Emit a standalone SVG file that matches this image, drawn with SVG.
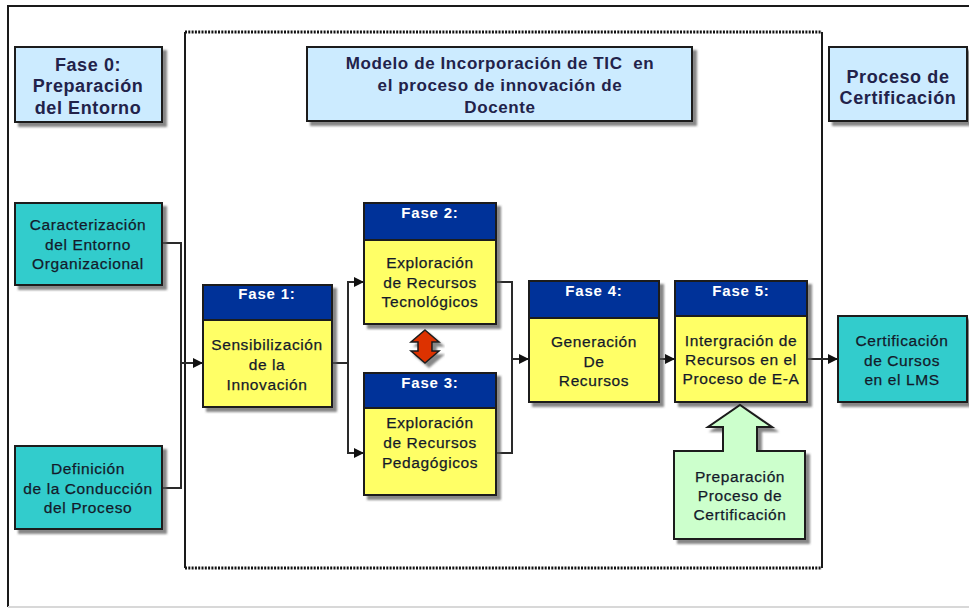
<svg xmlns="http://www.w3.org/2000/svg" width="969" height="608" viewBox="0 0 969 608">
<defs>
<filter id="sh" x="-10%" y="-10%" width="130%" height="130%">
<feDropShadow dx="4" dy="4" stdDeviation="1.2" flood-color="#555" flood-opacity="0.7"/>
</filter>
<marker id="ar" viewBox="0 0 10 10" refX="9" refY="5" markerWidth="10" markerHeight="10" markerUnits="userSpaceOnUse" orient="auto">
<path d="M0,0 L10,5 L0,10 z" fill="#111"/>
</marker>
</defs>
<style>
.box{stroke:#1a1a1a;stroke-width:2}
.lb{fill:#CCEBFF}
.tl{fill:#33CCCC}
.yl{fill:#FFFF66}
.nv{fill:#003399}
.gr{fill:#CCFFCC}
.title{font-family:"Liberation Sans",Arial,sans-serif;font-weight:bold;font-size:18px;fill:#22224a;text-anchor:middle;letter-spacing:0.6px;white-space:pre}
.t{font-family:"Liberation Sans",Arial,sans-serif;font-size:15.5px;fill:#141a2a;stroke:#141a2a;stroke-width:0.25;text-anchor:middle;letter-spacing:0.6px}
.h{font-family:"Liberation Sans",Arial,sans-serif;font-weight:bold;font-size:15px;fill:#ffffff;text-anchor:middle;letter-spacing:0.8px}
.cn{fill:none;stroke:#2a2a2a;stroke-width:2}
</style>
<rect width="969" height="608" fill="#ffffff"/>
<!-- outer frame -->
<path d="M975,6 H8 V607" fill="none" stroke="#1a1a1a" stroke-width="2"/>
<line x1="8" y1="607" x2="969" y2="607" stroke="#d8d8d8" stroke-width="2"/>
<!-- inner dotted frame -->
<g id="frame">
<line x1="185" y1="32" x2="822" y2="32" stroke="#111" stroke-width="3" stroke-dasharray="2,1.3"/>
<line x1="185" y1="568" x2="822" y2="568" stroke="#111" stroke-width="3" stroke-dasharray="2,1.3"/>
<line x1="185" y1="32" x2="185" y2="568" stroke="#1a1a1a" stroke-width="2"/>
<line x1="822" y1="32" x2="822" y2="568" stroke="#1a1a1a" stroke-width="2"/>
</g>
<g id="connectors">
<path class="cn" d="M162,243 H181 V488 H162"/>
<path class="cn" d="M181,363 H202" marker-end="url(#ar)"/>
<path class="cn" d="M332,363 H348 V282 H363" marker-end="url(#ar)"/>
<path class="cn" d="M348,363 V453 H363" marker-end="url(#ar)"/>
<path class="cn" d="M496,282 H512 V453 H496"/>
<path class="cn" d="M512,359 H528" marker-end="url(#ar)"/>
<path class="cn" d="M659,359 H674" marker-end="url(#ar)"/>
<path class="cn" d="M807,359 H837" marker-end="url(#ar)"/>
<path d="M425,330 L439,342 L432,342 L432,351 L439,351 L425,363 L411,351 L418,351 L418,342 L411,342 Z" fill="#DD3300" stroke="#1a1a1a" stroke-width="1.5" filter="url(#sh)"/>
</g>
<g id="fase0">
<rect class="box lb" x="15" y="47" width="147" height="75" filter="url(#sh)"/>
<text class="title" x="88" y="71">Fase 0:</text>
<text class="title" x="88" y="92">Preparación</text>
<text class="title" x="88" y="114">del Entorno</text>
</g>
<g id="modelo">
<rect class="box lb" x="307" y="47" width="385" height="74" filter="url(#sh)"/>
<text class="title" x="500" y="69" style="font-size:17px">Modelo de Incorporación de TIC  en</text>
<text class="title" x="500" y="91" style="font-size:17px">el proceso de innovación de</text>
<text class="title" x="500" y="113" style="font-size:17px">Docente</text>
</g>
<g id="proceso">
<rect class="box lb" x="829" y="47" width="138" height="74" filter="url(#sh)"/>
<text class="title" x="898" y="83">Proceso de</text>
<text class="title" x="898" y="104">Certificación</text>
</g>
<g id="caracterizacion">
<rect class="box tl" x="15" y="203" width="147" height="82" filter="url(#sh)"/>
<text class="t" x="88" y="230">Caracterización</text>
<text class="t" x="88" y="250">del Entorno</text>
<text class="t" x="88" y="269">Organizacional</text>
</g>
<g id="definicion">
<rect class="box tl" x="15" y="446" width="147" height="83" filter="url(#sh)"/>
<text class="t" x="88" y="474">Definición</text>
<text class="t" x="88" y="494">de la Conducción</text>
<text class="t" x="88" y="513">del Proceso</text>
</g>
<g id="fase1">
<g filter="url(#sh)">
<rect class="box nv" x="203" y="285" width="129" height="35"/>
<rect class="box yl" x="203" y="320" width="129" height="87"/>
</g>
<text class="h" x="267" y="299">Fase 1:</text>
<text class="t" x="267" y="350">Sensibilización</text>
<text class="t" x="267" y="370">de la</text>
<text class="t" x="267" y="390">Innovación</text>
</g>
<g id="fase2">
<g filter="url(#sh)">
<rect class="box nv" x="364" y="203" width="132" height="37"/>
<rect class="box yl" x="364" y="240" width="132" height="84"/>
</g>
<text class="h" x="430" y="218">Fase 2:</text>
<text class="t" x="430" y="268">Exploración</text>
<text class="t" x="430" y="288">de Recursos</text>
<text class="t" x="430" y="307">Tecnológicos</text>
</g>
<g id="fase3">
<g filter="url(#sh)">
<rect class="box nv" x="364" y="373" width="132" height="35"/>
<rect class="box yl" x="364" y="408" width="132" height="87"/>
</g>
<text class="h" x="430" y="388">Fase 3:</text>
<text class="t" x="430" y="428">Exploración</text>
<text class="t" x="430" y="448">de Recursos</text>
<text class="t" x="430" y="468">Pedagógicos</text>
</g>
<g id="fase4">
<g filter="url(#sh)">
<rect class="box nv" x="529" y="281" width="130" height="37"/>
<rect class="box yl" x="529" y="318" width="130" height="84"/>
</g>
<text class="h" x="594" y="296">Fase 4:</text>
<text class="t" x="594" y="347">Generación</text>
<text class="t" x="594" y="367">De</text>
<text class="t" x="594" y="386">Recursos</text>
</g>
<g id="fase5">
<g filter="url(#sh)">
<rect class="box nv" x="675" y="281" width="132" height="35"/>
<rect class="box yl" x="675" y="316" width="132" height="86"/>
</g>
<text class="h" x="741" y="296">Fase 5:</text>
<text class="t" x="741" y="346">Intergración de</text>
<text class="t" x="741" y="365">Recursos en el</text>
<text class="t" x="741" y="384">Proceso de E-A</text>
</g>
<g id="certificacion">
<rect class="box tl" x="838" y="316" width="129" height="86" filter="url(#sh)"/>
<text class="t" x="902" y="346">Certificación</text>
<text class="t" x="902" y="366">de Cursos</text>
<text class="t" x="902" y="385">en el LMS</text>
</g>
<g id="preparacion">
<path class="box gr" d="M674,451 H723 V427 H708 L740,405 L772,427 H757 V451 H805 V539 H674 Z" filter="url(#sh)"/>
<text class="t" x="740" y="482">Preparación</text>
<text class="t" x="740" y="501">Proceso de</text>
<text class="t" x="740" y="520">Certificación</text>
</g>
</svg>
